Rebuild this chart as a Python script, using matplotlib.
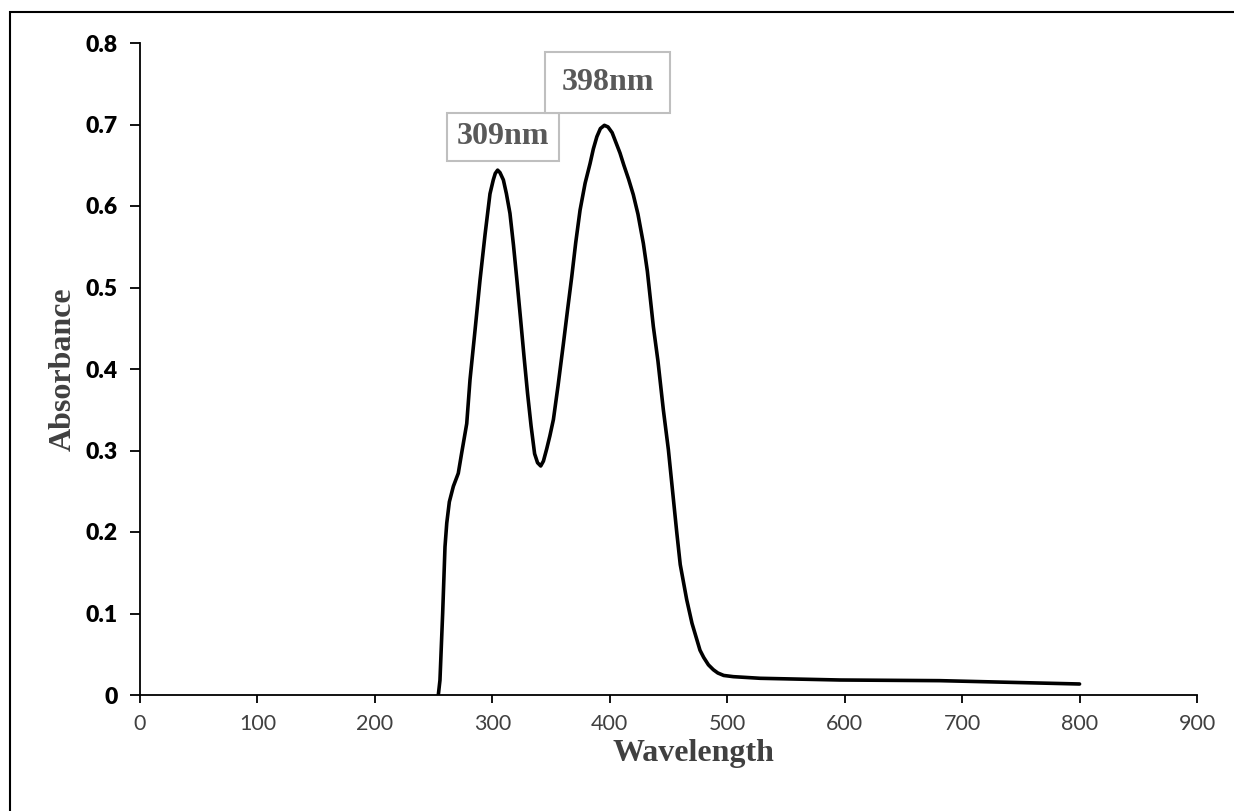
import matplotlib
matplotlib.use('Agg')
import matplotlib.pyplot as plt
from matplotlib.patches import Rectangle

# Spectre UV-Vis
wavelength = [254, 255.4, 257.7, 259.7, 261.2, 263.4, 266.8, 271, 273.9, 278.2,
              281, 285.3, 289.5, 293.8, 298, 300.8, 302.5, 304.5, 306.5, 309.4,
              312, 315, 318, 321, 324, 327, 330, 333, 336, 338.5,
              341.2, 343.5, 346.3, 349, 352, 356, 360.5, 364, 367.6, 371,
              374.7, 379, 383.2, 386, 389, 392, 395.4, 398.5, 402, 408.7,
              412, 416, 420, 424, 428.6, 432, 437.1, 441, 445.6, 449.9,
              457, 460, 465.5, 470, 476.8, 480, 484, 488.2, 492, 497,
              505.2, 528, 596, 681, 800]
absorbance = [0.0, 0.018, 0.100, 0.182, 0.211, 0.237, 0.256, 0.272, 0.297, 0.333,
              0.387, 0.448, 0.509, 0.565, 0.615, 0.632, 0.640, 0.644, 0.641, 0.632,
              0.615, 0.591, 0.552, 0.508, 0.462, 0.415, 0.370, 0.330, 0.296, 0.285,
              0.281, 0.287, 0.302, 0.318, 0.338, 0.380, 0.431, 0.472, 0.513, 0.555,
              0.595, 0.628, 0.652, 0.670, 0.685, 0.695, 0.699, 0.697, 0.690, 0.665,
              0.650, 0.633, 0.614, 0.590, 0.554, 0.520, 0.452, 0.410, 0.350, 0.301,
              0.200, 0.160, 0.117, 0.088, 0.055, 0.046, 0.037, 0.031, 0.027, 0.024,
              0.0225, 0.0205, 0.0184, 0.0176, 0.0135]

peak_labels = ['309nm', '398nm']
peak_x = [309, 398]
peak_y = [0.685, 0.751]
peak_pads = [0.3, 0.5]

W, H = 1234, 811
fig = plt.figure(figsize=(W / 100, H / 100), dpi=100)
ax = fig.add_axes([140 / W, (H - 695) / H, (1197 - 140) / W, (695 - 43) / H])

ax.plot(wavelength, absorbance, color='black', linewidth=2.6,
        solid_capstyle='round', solid_joinstyle='round')

ax.set_xlim(0, 900)
ax.set_ylim(0, 0.8)
ax.set_xticks(range(0, 901, 100))
ax.set_yticks([0, 0.1, 0.2, 0.3, 0.4, 0.5, 0.6, 0.7, 0.8])
ax.set_yticklabels(['0', '0.1', '0.2', '0.3', '0.4', '0.5', '0.6', '0.7', '0.8'])

for s in ['top', 'right']:
    ax.spines[s].set_visible(False)
for s in ['left', 'bottom']:
    ax.spines[s].set_linewidth(1.3)
    ax.spines[s].set_color('black')

ax.tick_params(axis='y', direction='out', length=7, width=1.3, pad=9)
ax.tick_params(axis='x', direction='out', length=6, width=1.3, pad=8, colors='black')
for lab in ax.get_yticklabels():
    lab.set_fontfamily('Lato')
    lab.set_fontweight('heavy')
    lab.set_fontsize(16.5)
    lab.set_color('black')
for lab in ax.get_xticklabels():
    lab.set_fontfamily('Lato')
    lab.set_fontsize(15.5)
    lab.set_color('#404040')

ax.set_xlabel('Wavelength', fontfamily='Liberation Serif', fontweight='bold',
              fontsize=23, color='#404040')
ax.xaxis.set_label_coords(0.524, -0.068)
ax.set_ylabel('Absorbance', fontfamily='Liberation Serif', fontweight='bold',
              fontsize=23, color='#404040', labelpad=6)

for lab, x, y, p in zip(peak_labels, peak_x, peak_y, peak_pads):
    ax.text(x, y, lab, ha='center', va='center', fontfamily='Liberation Serif',
            fontweight='bold', fontsize=23, color='#595959',
            bbox=dict(boxstyle='square,pad=%s' % p, facecolor='white',
                      edgecolor='#BFBFBF', linewidth=1.5))

# cadre de la figure (haut et gauche visibles)
fig.add_artist(Rectangle((10 / W, -0.1), 1.2, 1 - 12 / H + 0.1, transform=fig.transFigure,
                         fill=False, edgecolor='black', linewidth=1.5, clip_on=False))

fig.savefig('out.png', dpi=100)
